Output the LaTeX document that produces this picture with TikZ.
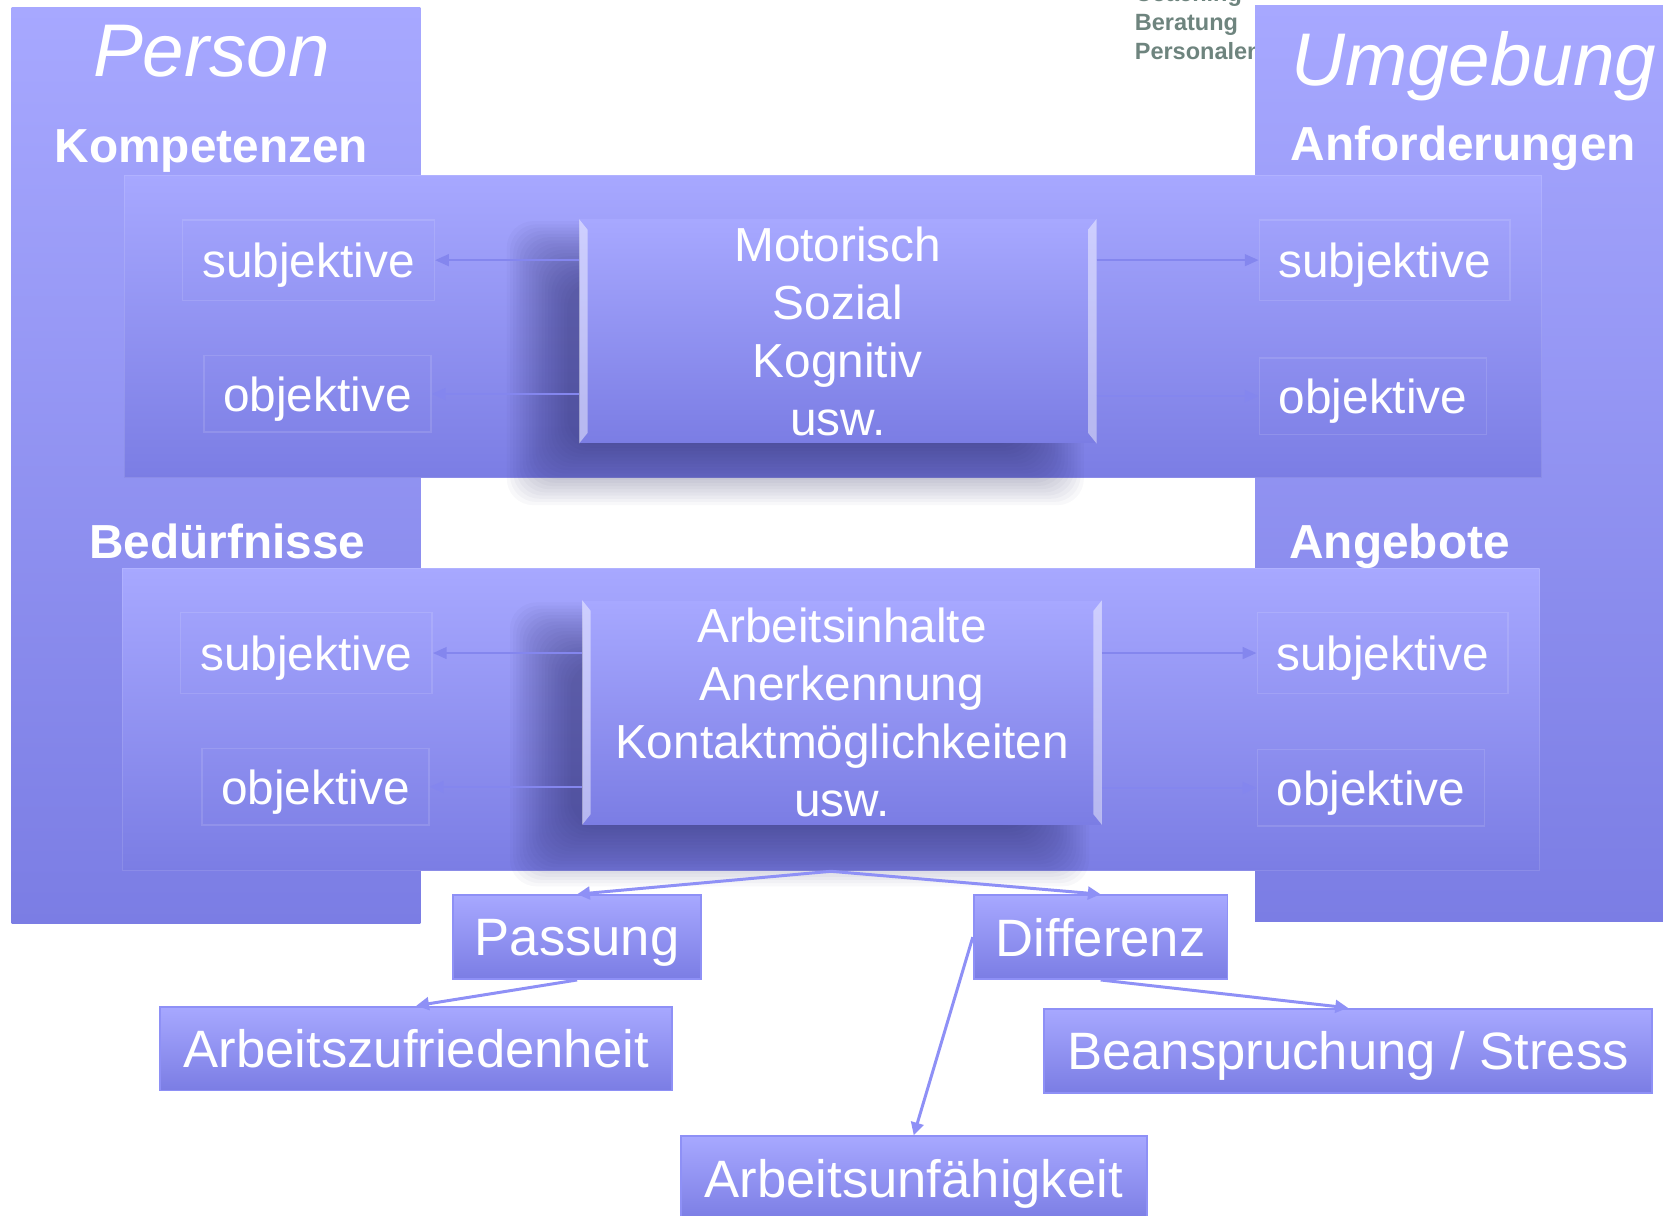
\documentclass[tikz,border=0pt]{standalone}
\usepackage{fontspec}
\setmainfont{Liberation Sans}
\usetikzlibrary{arrows.meta, positioning, calc}

\definecolor{lavtop}{HTML}{A7A8FF}
\definecolor{lavbot}{HTML}{7B7DE4}
\definecolor{lavline}{HTML}{8E90F6}
\definecolor{faintline}{HTML}{8486EE}
\definecolor{graytxt}{HTML}{6E847E}
\definecolor{shadowcol}{HTML}{262660}

\pgfdeclarelayer{bg}
\pgfdeclarelayer{shade}
\pgfsetlayers{bg,shade,main}

\begin{document}
\begin{tikzpicture}[
    x=0.1mm, y=0.1mm,
    grad/.style={shading=axis, top color=lavtop, bottom color=lavbot},
    column/.style={grad, inner sep=0pt},
    band/.style={grad, draw=white, draw opacity=0.12, line width=0.3pt,
                 inner sep=0pt},
    centerbox/.style={grad, inner sep=0pt, align=center, text=white,
                 font=\fontsize{12.8}{15.5}\selectfont},
    sidebox/.style={draw=white, draw opacity=0.12, line width=0.4pt,
                 inner sep=0pt, text=white, text depth=0pt,
                 font=\fontsize{12.8}{15}\selectfont},
    result/.style={grad, draw=lavline, line width=0.5pt, inner sep=0pt,
                 minimum height=7.9mm, text=white, text depth=0pt,
                 font=\fontsize{14.1}{16}\selectfont},
    title/.style={text=white, text depth=0pt,
                 font=\fontsize{20}{24}\selectfont\itshape},
    heading/.style={text=white, text depth=0pt,
                 font=\fontsize{12.8}{15}\selectfont\bfseries},
    graylabel/.style={text=graytxt, align=left, inner sep=0pt,
                 font=\fontsize{6.3}{7.7}\selectfont\bfseries},
    faint/.style={draw=faintline, line width=0.6pt,
                 -{Triangle[length=1.3mm, width=1.1mm]}},
    link/.style={draw=lavline, line width=0.8pt,
                 -{Triangle[length=1.2mm, width=1.2mm]}},
    bevel/.style={fill=white, fill opacity=0.45},
    softshadow/.style={fill=shadowcol, fill opacity=0.032, rounded corners=2.5mm}
  ]
  \useasboundingbox (0,0) rectangle (1568,-1145);

  \begin{pgfonlayer}{bg}
    \fill[white] (0,0) rectangle (1568,-1145);

    % the two columns
    \node[column, minimum width=38.5mm, minimum height=86.3mm]
      (person) at (203.5,-438.5) {};
    \begin{scope}
      \clip (1000,0) rectangle (1182,-100);
      \node[graylabel, anchor=west] (svc) at (1068,-23)
        {Coaching\\Beratung\\Personalentwicklung};
    \end{scope}
    \node[column, minimum width=38.4mm, minimum height=86.3mm]
      (umwelt) at (1374,-436.5) {};

    \node[title] (tperson) at (199,-48) {Person};
    \node[heading] (komp) at (199,-138) {Kompetenzen};
    \node[title] (tumwelt) at (1388,-55) {Umgebung};
    \node[heading] (anf) at (1378,-135) {Anforderungen};
    \node[heading] (bed) at (214,-510) {Bedürfnisse};
    \node[heading] (ang) at (1318,-510) {Angebote};

    % bands
    \node[band, minimum width=133.5mm, minimum height=28.5mm]
      (tband) at (784.5,-307.5) {};
    \node[band, minimum width=133.5mm, minimum height=28.5mm]
      (bband) at (782.5,-677.5) {};
  \end{pgfonlayer}

  % upper band
  \node[centerbox, minimum width=48.6mm, minimum height=21mm]
    (ctop) at (789,-312) {Motorisch\\Sozial\\Kognitiv\\usw.};
  \node[sidebox, minimum width=23.7mm, minimum height=7.6mm]
    (ls1) at (290.5,-245) {subjektive};
  \node[sidebox, minimum width=21.4mm, minimum height=7.2mm]
    (lo1) at (299,-371) {objektive};
  \node[sidebox, minimum width=23.6mm, minimum height=7.6mm]
    (rs1) at (1304,-245) {subjektive};
  \node[sidebox, minimum width=21.4mm, minimum height=7.2mm]
    (ro1) at (1293,-373) {objektive};

  % lower band
  \node[centerbox, minimum width=48.8mm, minimum height=21mm]
    (cbot) at (793,-671)
    {Arbeitsinhalte\\Anerkennung\\Kontaktmöglichkeiten\\usw.};
  \node[sidebox, minimum width=23.7mm, minimum height=7.6mm]
    (ls2) at (288.5,-615) {subjektive};
  \node[sidebox, minimum width=21.4mm, minimum height=7.2mm]
    (lo2) at (297,-741) {objektive};
  \node[sidebox, minimum width=23.6mm, minimum height=7.6mm]
    (rs2) at (1302,-615) {subjektive};
  \node[sidebox, minimum width=21.4mm, minimum height=7.2mm]
    (ro2) at (1291,-742) {objektive};

  % soft shadows under the centre boxes
  \begin{pgfonlayer}{shade}
    \foreach \b in {ctop, cbot} {
      \foreach \i in {0,...,19} {
        \pgfmathsetmacro{\e}{28-3*\i}
        \fill[softshadow]
          ([shift={(-40-\e,-30-\e)}]\b.south west)
          rectangle ([shift={(-40+\e,-30+\e)}]\b.north east);
      }
    }
  \end{pgfonlayer}

  % bevelled edges of the centre boxes
  \foreach \b in {ctop, cbot} {
    \fill[bevel] (\b.north west) -- ++(8,-10)
      -- ([shift={(8,10)}]\b.south west) -- (\b.south west) -- cycle;
    \fill[bevel] (\b.north east) -- ++(-8,-10)
      -- ([shift={(-8,10)}]\b.south east) -- (\b.south east) -- cycle;
  }

  % faint arrows inside the bands
  \foreach \c/\s/\o/\r/\q in {ctop/ls1/lo1/rs1/ro1, cbot/ls2/lo2/rs2/ro2} {
    \draw[faint] (\c.west |- \s) -- (\s.east);
    \draw[faint] (\c.west |- \o) -- (\o.east);
    \draw[faint] (\c.east |- \r) -- (\r.west);
    \draw[faint] (\c.east |- \q) -- (\q.west);
  }

  % results
  \node[result, minimum width=23.3mm] (pas) at (543.5,-882.5) {Passung};
  \node[result, minimum width=23.9mm] (dif) at (1036.5,-882.5) {Differenz};
  \node[result, minimum width=48.2mm] (azf) at (392,-987.5)
    {Arbeitszufriedenheit};
  \node[result, minimum width=57.3mm] (bst) at (1269.5,-989.5)
    {Beanspruchung / Stress};
  \node[result, minimum width=43.9mm, minimum height=8mm] (auf)
    at (860.5,-1110) {Arbeitsunfähigkeit};

  \draw[link] (bband.south) -- (pas.north);
  \draw[link] (bband.south) -- (dif.north);
  \draw[link] (pas.south) -- (azf.north);
  \draw[link] (dif.south) -- (bst.north);
  \draw[link] (dif.west) -- (auf.north);
\end{tikzpicture}
\end{document}
